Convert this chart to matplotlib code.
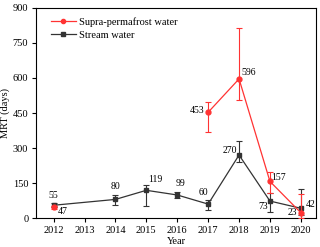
import numpy as np
import matplotlib
matplotlib.use("Agg")
import matplotlib.pyplot as plt
from matplotlib.lines import Line2D

plt.rcParams["font.family"] = ["Liberation Serif", "DejaVu Serif"]
plt.rcParams["font.size"] = 7.5

# Supra-permafrost water (NaN = no data)
years = [2012, 2014, 2015, 2016, 2017, 2018, 2019, 2020]
supra = [47, np.nan, np.nan, np.nan, 453, 596, 157, 23]
supra_lo = [6, 0, 0, 0, 83, 92, 50, 23]
supra_hi = [6, 0, 0, 0, 45, 218, 42, 80]

stream = [55, 80, 119, 99, 60, 270, 73, 42]
stream_lo = [8, 22, 68, 14, 25, 30, 48, 30]
stream_hi = [8, 18, 24, 14, 18, 62, 33, 82]

supra_labels = ["47", "", "", "", "453", "596", "157", "23"]
stream_labels = ["55", "80", "119", "99", "60", "270", "73", "42"]

red = "#ff3333"
dark = "#333333"

fig, ax = plt.subplots(figsize=(3.2, 2.47), dpi=100)

ax.errorbar(years, stream, yerr=[stream_lo, stream_hi], color=dark, marker="s",
            markersize=3.5, linewidth=0.9, elinewidth=0.8, capsize=2, capthick=0.8,
            zorder=2)
ax.errorbar(years, supra, yerr=[supra_lo, supra_hi], color=red, marker="o",
            markersize=3.5, linewidth=0.9, elinewidth=0.8, capsize=2, capthick=0.8,
            zorder=3)

# value labels, offsets in pixels (converted to points)
stream_off = [(0, 10), (0, 13), (9, 11), (3, 11), (-5, 11.5), (-9, 5), (-7, -5), (10, 3.5)]
supra_off = [(9, -4.5), None, None, None, (-11, 2), (10, 6.5), (9, 4), (-8.5, 0)]
for x, y, t, o in zip(years, stream, stream_labels, stream_off):
    ax.annotate(t, (x, y), xytext=(o[0] * 0.72, o[1] * 0.72), textcoords="offset points",
                ha="center", va="center", fontsize=7)
for x, y, t, o in zip(years, supra, supra_labels, supra_off):
    if o is None:
        continue
    ax.annotate(t, (x, y), xytext=(o[0] * 0.72, o[1] * 0.72), textcoords="offset points",
                ha="center", va="center", fontsize=7)

ax.set_xlim(2011.43, 2020.49)
ax.set_ylim(0, 900)
ax.set_xticks(range(2012, 2021))
ax.set_yticks(range(0, 901, 150))
ax.tick_params(direction="out", length=3, width=0.8, top=False, right=False, pad=2.5)
ax.set_xlabel("Year", labelpad=1.5)
ax.set_ylabel("MRT (days)", labelpad=2)
for s in ax.spines.values():
    s.set_linewidth(0.8)

handles = [Line2D([], [], color=red, marker="o", markersize=3, linewidth=0.9),
           Line2D([], [], color=dark, marker="s", markersize=3, linewidth=0.9)]
ax.legend(handles, ["Supra-permafrost water", "Stream water"], loc="upper left",
          bbox_to_anchor=(0.03, 0.985), frameon=False, handlelength=2.4,
          handletextpad=0.3, labelspacing=0.35, borderaxespad=0.2, fontsize=7.5)

fig.subplots_adjust(left=0.1125, right=0.9875, top=0.968, bottom=0.117)
fig.savefig("out.png", dpi=100)
